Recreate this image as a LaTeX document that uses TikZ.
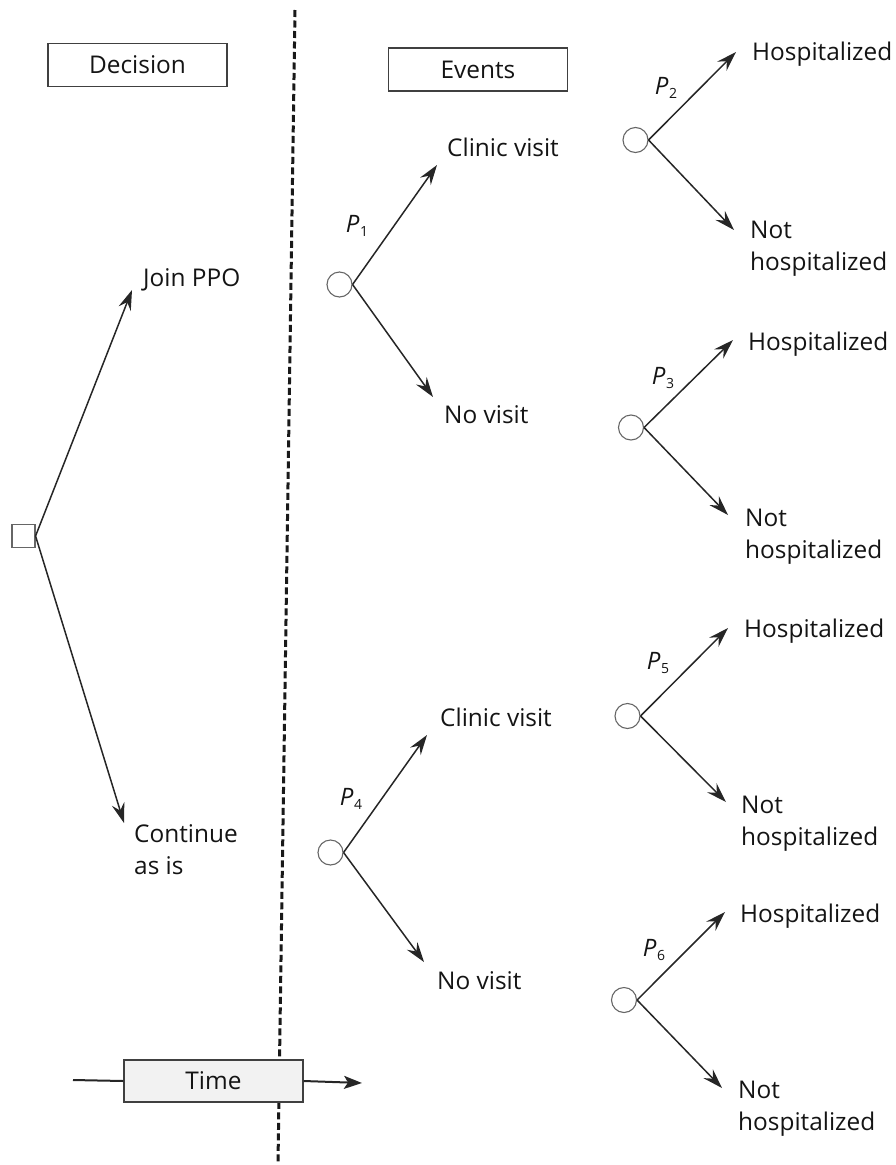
\documentclass[tikz,border=0pt]{standalone}
\usepackage{fontspec}
\setmainfont{Open Sans}
\usetikzlibrary{arrows.meta}
% probability label: italic P with a small upright index
\newcommand\prb[1]{\textit{P}\kern0.5pt\raisebox{-4.5pt}{\fontsize{14}{14}\selectfont #1}}
\begin{document}
\begin{tikzpicture}[x=1pt,y=-1pt,
  lbl/.style={inner sep=0pt, anchor=base west, align=left,
    font=\fontsize{24.4}{32}\selectfont, text=black!92},
  frame/.style={draw=black!75, line width=1.4pt, inner sep=0pt,
    minimum width=179pt, minimum height=43pt,
    font=\fontsize{24.4}{32}\selectfont, text=black!92},
  chance/.style={circle, draw=black!60, line width=1.1pt, minimum size=25pt, inner sep=0pt},
  choice/.style={rectangle, draw=black!60, line width=1.1pt, minimum size=23pt, inner sep=0pt},
  branch/.style={draw=black!85, line width=1.5pt,
    -{Stealth[length=20pt,width=13pt,inset=7pt]}},
  prob/.style={inner sep=0pt, font=\fontsize{24}{24}\selectfont, text=black!92},
  timeline/.style={draw=black!85, line width=2pt}
]
\useasboundingbox (0,0) rectangle (896,1165);

% divider between the decision and the events
\coordinate (dtop) at (295,10);
\coordinate (dbot) at (278,1163);
\draw[black!90, line width=3pt, dash pattern=on 7pt off 3.5pt] (dtop) -- (dbot);

% headings
\node[frame] (decision) at (137.5,65) {Decision};
\node[frame] (events) at (478,69.5) {Events};

% decision node (multi-line labels are placed by their last baseline)
\node[choice] (sq) at (23.5,536) {};
\node[lbl] (join) at (143,286) {Join PPO};
\node[lbl] (cont) at (134,874) {Continue\\as is};
\coordinate (tjoin) at (132,290);
\coordinate (tcont) at (124,823);
\draw[branch] (sq.east) -- (tjoin);
\draw[branch] (sq.east) -- (tcont);

% first chance node: clinic visit or not
\node[chance] (c1) at (339.5,284.5) {};
\node[prob] (p1) at (357,226) {\prb{1}};
\node[lbl] (cv1) at (447,156) {Clinic visit};
\node[lbl] (nv1) at (444,423) {No visit};
\coordinate (tcv1) at (437,165);
\coordinate (tnv1) at (433,397);
\draw[branch] (c1.east) -- (tcv1);
\draw[branch] (c1.east) -- (tnv1);

% second chance node: clinic visit or not
\node[chance] (c4) at (330.5,852.5) {};
\node[prob] (p4) at (351,799) {\prb{4}};
\node[lbl] (cv2) at (440,726) {Clinic visit};
\node[lbl] (nv2) at (437,989) {No visit};
\coordinate (tcv2) at (427,735);
\coordinate (tnv2) at (424,962);
\draw[branch] (c4.east) -- (tcv2);
\draw[branch] (c4.east) -- (tnv2);

% hospitalization outcomes
\node[chance] (c2) at (635.5,140) {};
\node[prob] (p2) at (666,88) {\prb{2}};
\node[lbl] (h2) at (752,60) {Hospitalized};
\node[lbl] (n2) at (750,270) {Not\\hospitalized};
\coordinate (th2) at (736,52);
\coordinate (tn2) at (734,230);
\draw[branch] (c2.east) -- (th2);
\draw[branch] (c2.east) -- (tn2);

\node[chance] (c3) at (631,427.5) {};
\node[prob] (p3) at (663,378) {\prb{3}};
\node[lbl] (h3) at (748,350) {Hospitalized};
\node[lbl] (n3) at (745,558) {Not\\hospitalized};
\coordinate (th3) at (733,340);
\coordinate (tn3) at (728,515);
\draw[branch] (c3.east) -- (th3);
\draw[branch] (c3.east) -- (tn3);

\node[chance] (c5) at (627.5,716) {};
\node[prob] (p5) at (658,663) {\prb{5}};
\node[lbl] (h5) at (744,637) {Hospitalized};
\node[lbl] (n5) at (741,845) {Not\\hospitalized};
\coordinate (th5) at (728,628);
\coordinate (tn5) at (726,802);
\draw[branch] (c5.east) -- (th5);
\draw[branch] (c5.east) -- (tn5);

\node[chance] (c6) at (624,1000) {};
\node[prob] (p6) at (654,950) {\prb{6}};
\node[lbl] (h6) at (740,922) {Hospitalized};
\node[lbl] (n6) at (738,1130) {Not\\hospitalized};
\coordinate (th6) at (725,912);
\coordinate (tn6) at (722,1088);
\draw[branch] (c6.east) -- (th6);
\draw[branch] (c6.east) -- (tn6);

% time axis
\coordinate (tl) at (73,1080);
\coordinate (tr) at (362,1083);
\node[frame, fill=black!5, minimum height=42pt] (time) at (213.5,1081) {Time};
\draw[timeline] (tl) -- (time.west);
\draw[timeline, -{Stealth[length=18pt,width=13pt,inset=4pt]}] (time.east) -- (tr);
\end{tikzpicture}
\end{document}
